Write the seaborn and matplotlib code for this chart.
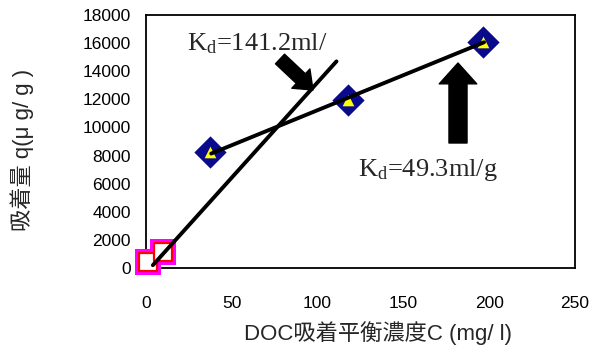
import matplotlib
matplotlib.use("Agg")
import matplotlib.pyplot as plt
import seaborn as sns
import pandas as pd

# data
low_x = [1.2, 9.9]
low_y = [430, 1150]
high_x = [37.3, 117.7, 196.4]
high_y = [8280, 11950, 16060]
fit1_x = [4, 111]
fit1_y = [200, 14700]
fit2_x = [38, 197]
fit2_y = [8140, 16060]
xticks = [0, 50, 100, 150, 200, 250]
yticks = list(range(0, 18001, 2000))

sns.set_theme(style="white")
plt.rcParams['font.family'] = ['Liberation Sans', 'Noto Sans CJK JP', 'DejaVu Sans']
plt.rcParams['mathtext.fontset'] = 'custom'
plt.rcParams['mathtext.rm'] = 'Liberation Serif'
plt.rcParams['mathtext.it'] = 'Liberation Serif'

fig = plt.figure(figsize=(6.03, 3.51), dpi=100)
ax = fig.add_axes([146/603, 1-268/351, (575-146)/603, (268-15)/351])

low = pd.DataFrame({"x": low_x, "y": low_y})
high = pd.DataFrame({"x": high_x, "y": high_y})

# square markers with magenta halo
sns.scatterplot(data=low, x="x", y="y", marker="s", s=360, color="#ff00ff",
                edgecolor="#ff00ff", linewidth=0, ax=ax, zorder=3, clip_on=False)
sns.scatterplot(data=low, x="x", y="y", marker="s", s=160, color="white",
                edgecolor="red", linewidth=1.6, ax=ax, zorder=4, clip_on=False)
# diamonds
sns.scatterplot(data=high, x="x", y="y", marker="D", s=270, color="#0a0a8c",
                edgecolor="#0a0a8c", linewidth=0, ax=ax, zorder=3, clip_on=False)
sns.scatterplot(data=high, x="x", y="y", marker="^", s=70, color="#ffff00",
                edgecolor="#ffff00", linewidth=0, ax=ax, zorder=4, clip_on=False)

sns.lineplot(x=fit1_x, y=fit1_y, color="black", linewidth=2.8, ax=ax, zorder=5)
sns.lineplot(x=fit2_x, y=fit2_y, color="black", linewidth=2.8, ax=ax, zorder=5)

ax.set_xlim(0, 250)
ax.set_ylim(0, 18000)
ax.set_xticks(xticks)
ax.set_yticks(yticks)
ax.tick_params(axis="x", direction="in", length=4, width=0.8, color="gray",
               labelcolor="black", labelsize=12.5, pad=20)
ax.tick_params(axis="y", direction="out", length=4, width=0.8, color="gray",
               labelcolor="black", labelsize=12.5, pad=7)
for sp in ax.spines.values():
    sp.set_color("black")
    sp.set_linewidth(1.3)

ax.set_xlabel("")
ax.set_ylabel("")
fig.text(378/603, 1-333/351, "DOC吸着平衡濃度C (mg/ l)", ha="center", va="center",
         fontsize=16)
fig.text(22/603, 1-150/351, "吸着量 q(μ g/ g )", ha="center", va="center",
         rotation=90, fontsize=16)

# annotations
fig.text(187/603, 1-44/351, r"$\mathrm{K_d}$=141.2ml/", fontsize=19,
         family="Liberation Serif", ha="left", va="center")
fig.text(358/603, 1-170/351, r"$\mathrm{K_d}$=49.3ml/g", fontsize=19,
         family="Liberation Serif", ha="left", va="center")

arrow1 = dict(arrowstyle="simple,head_width=1.9,head_length=1.2,tail_width=0.95",
              color="black", mutation_scale=10, shrinkA=0, shrinkB=0)
ax.annotate("", xy=(313/603, 1-90/351), xycoords="figure fraction",
            xytext=(280/603, 1-59/351), textcoords="figure fraction",
            arrowprops=arrow1, zorder=6)
arrow2 = dict(arrowstyle="simple,head_width=2.7,head_length=1.5,tail_width=1.3",
              color="black", mutation_scale=10, shrinkA=0, shrinkB=0)
ax.annotate("", xy=(458/603, 1-63/351), xycoords="figure fraction",
            xytext=(458/603, 1-143/351), textcoords="figure fraction",
            arrowprops=arrow2, zorder=6)

fig.savefig("out.png", dpi=100)
